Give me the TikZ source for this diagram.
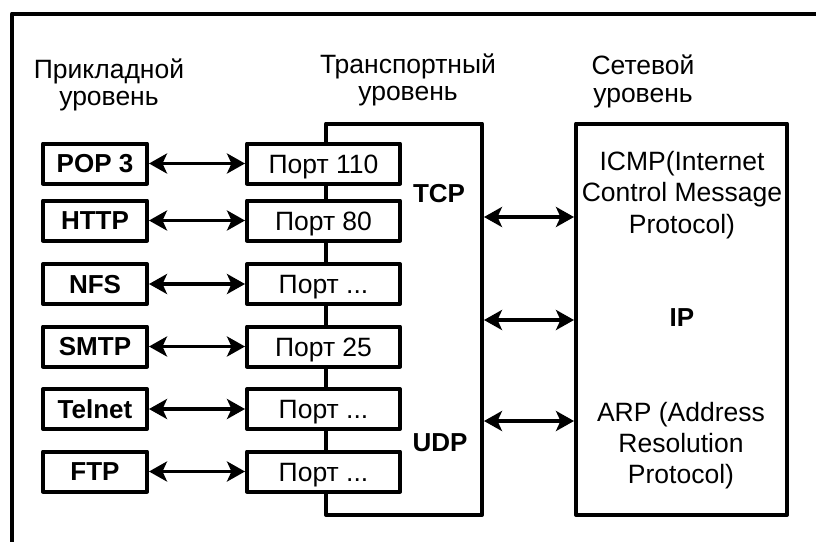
\documentclass[tikz,border=0pt]{standalone}
\usepackage{fontspec}
\setmainfont{Liberation Sans}
\usetikzlibrary{arrows.meta}
\newcommand\portdots{Порт ...}
\begin{document}
\begin{tikzpicture}[x=1pt,y=-1pt,
  every node/.style={inner sep=0pt},
  heavy/.style={line width=4pt,line join=round},
  txt/.style={font=\fontsize{26.5}{30}\selectfont},
  btxt/.style={font=\fontsize{26}{30}\selectfont\bfseries},
  appbox/.style={heavy,draw,fill=white,btxt,minimum width=104pt,minimum height=40pt,
    text height=18.7pt,text depth=0pt},
  portbox/.style={heavy,draw,fill=white,txt,minimum width=153pt,minimum height=40pt,
    text height=19pt,text depth=0pt},
  layerbox/.style={heavy,draw},
  lbl/.style={anchor=base,txt},
  blbl/.style={anchor=base,btxt},
  link/.style={line width=3.3pt,{Stealth[length=18pt,width=20pt,inset=4.5pt]}-{Stealth[length=18pt,width=20pt,inset=4.5pt]}}
]
\clip (0,0) rectangle (816,541);

% outer frame (open to the right and bottom)
\draw[heavy] (12,560) -- (12,13.5) -- (830,13.5);

% layer captions
\node[lbl] (capA1) at (109,78) {Прикладной};
\node[lbl] (capA2) at (109,105) {уровень};
\node[lbl] (capT1) at (408,73) {Транспортный};
\node[lbl] (capT2) at (408,100) {уровень};
\node[lbl] (capN1) at (643,74) {Сетевой};
\node[lbl] (capN2) at (643,102) {уровень};

% transport and network layer boxes
\node[layerbox,minimum width=156pt,minimum height=391.5pt] (tr) at (404,319.25) {};
\node[layerbox,minimum width=211pt,minimum height=391.5pt] (net) at (681.5,319.25) {};

\node[blbl] (tcp) at (439,202) {TCP};
\node[blbl] (udp) at (440,451) {UDP};

% network layer protocols
\node[lbl] (icmp1) at (682,170) {ICMP(Internet};
\node[lbl] (icmp2) at (682,201.5) {Control Message};
\node[lbl] (icmp3) at (682,233) {Protocol)};
\node[blbl] (ip) at (682,326) {IP};
\node[lbl] (arp1) at (681,421) {ARP (Address};
\node[lbl] (arp2) at (681,452.5) {Resolution};
\node[lbl] (arp3) at (681,483.5) {Protocol)};

% applications and their ports
\foreach \app/\port/\y/\id in {POP 3/Порт 110/163.5/1, HTTP/Порт 80/220.5/2,
    NFS/\portdots/284/3, SMTP/Порт 25/346.5/4, Telnet/\portdots/409/5, FTP/\portdots/471.5/6}{
  \node[appbox] (app\id) at (95,\y) {\app};
  \node[portbox] (port\id) at (323.5,\y) {\port};
  \draw[link] (app\id) -- (port\id);
}

% transport <-> network links
\coordinate (r1) at (0,217);
\coordinate (r2) at (0,320);
\coordinate (r3) at (0,421);
\foreach \r in {r1,r2,r3}{
  \draw[link] (tr.east |- \r) -- (net.west |- \r);
}
\end{tikzpicture}
\end{document}
